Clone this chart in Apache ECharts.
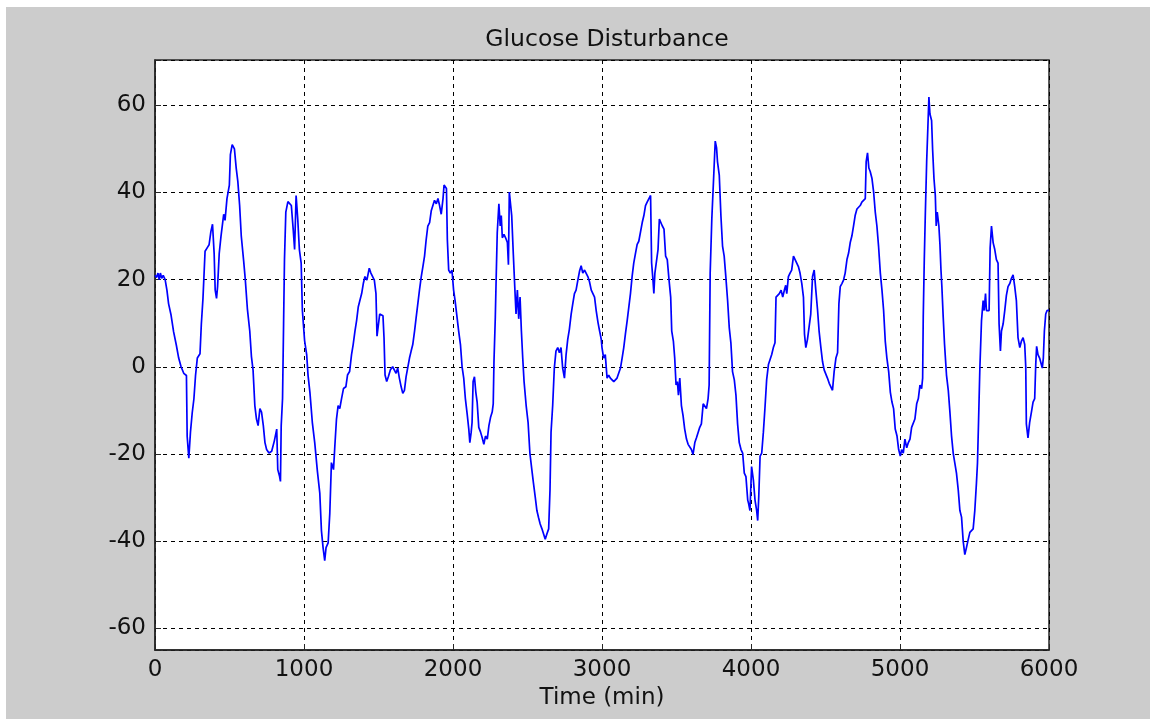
<!DOCTYPE html>
<html>
<head>
<meta charset="utf-8">
<script src="https://cdn.jsdelivr.net/npm/echarts@6/dist/echarts.min.js"></script>
<style>
  html, body { margin: 0; padding: 0; background: #ffffff; width: 1150px; height: 719px; overflow: hidden; }
  #chart { position: absolute; left: 6px; top: 7px; width: 1144px; height: 712px; }
</style>
</head>
<body>
<div id="chart"></div>
<script>
// ---- Data (time in min, glucose disturbance) ----
const titleText = 'Glucose Disturbance';
const xName = 'Time (min)';
const xTicks = [0, 1000, 2000, 3000, 4000, 5000, 6000];
const yTicks = [-60, -40, -20, 0, 20, 40, 60];

const seg1 = [[0,21],[10,20.5],[20,21.5],[28,20],[36,21.5],[45,20.3],[55,21],[68,20],[80,17.6],[91,14.5],[107,12],[125,8],[143,5],[159,2],[175,0],[193,-1.5],[211,-2],[216,-16],[227,-21],[238,-15],[250,-10.5],[261,-7.4],[272,-2],[284,2],[302,3],[311,9.8],[322,15.7],[336,26.5],[352,27.4],[363,28],[375,31],[386,32.7],[397,26],[404,17.6],[413,15.7],[420,18.4],[431,26],[443,30],[454,33],[461,35],[470,33.6],[483,38.6],[499,41.7],[506,48.7],[518,51],[533,50],[545,45.6],[556,42.5],[568,37],[579,30],[595,24.3],[606,20],[620,13.3],[636,8.2],[647,2.4],[658,-0.7],[670,-8.9],[681,-12],[692,-13.5],[704,-9.6],[715,-10.4],[727,-13.5],[738,-17.4],[749,-19],[765,-19.8],[783,-19.4],[801,-17],[817,-14.3],[824,-23.6],[835,-25],[842,-26.3],[847,-13.5],[856,-7.3],[863,9.8],[869,24.6],[878,35.5],[892,37.9],[903,37.9],[915,37],[928,31.3],[937,26.9],[947,39.3],[958,33.9],[969,26.9],[981,23.8],[989,13]];
const seg2 = [[1004,6],[1018,2.8],[1027,-1.9],[1040,-6],[1056,-12.8],[1072,-17.4],[1090,-24],[1106,-29],[1117,-37.6],[1128,-41.5],[1139,-44.5],[1148,-41.5],[1162,-40.4],[1173,-33.7],[1184,-22],[1198,-23.6],[1207,-18.2],[1218,-12],[1229,-8.9],[1240,-9.6],[1252,-7.3],[1265,-5],[1281,-4.6],[1292,-1.9],[1306,-1.1],[1319,2.8],[1330,5.1],[1342,8.2],[1353,10.6],[1364,13.7],[1375,15.2],[1387,16.8],[1398,19.1],[1409,20.7],[1422,19.9],[1438,22.6],[1449,21.5],[1461,21.9],[1472,19.9],[1483,16.8],[1490,7],[1499,6.7],[1508,12.1],[1519,12.5],[1530,11.7],[1537,6.7],[1544,-1.9],[1555,-3.4],[1566,-2.3],[1580,-0.7],[1595,0],[1607,-0.3],[1618,-1.5],[1629,-0.3],[1640,-2.6],[1652,-4.6],[1663,-6.1],[1674,-5.4],[1685,-2.3],[1697,-1.9],[1708,2],[1719,3.6],[1730,5.1],[1742,8.2],[1753,11.4],[1764,14.5],[1775,17.6],[1787,20.7],[1798,23],[1809,25.4],[1820,29.2],[1831,32.3],[1843,33.1],[1854,35.8],[1865,37],[1876,38.2],[1888,37.4],[1899,38.6],[1910,37],[1921,35],[1933,38.6],[1940,41.7],[1949,42.1],[1956,40.9],[1962,29.2],[1971,22.2],[1982,21.5],[1993,22.2]];
const seg3 = [[2004,17.6],[2014,15.2],[2027,11.4],[2038,8.2],[2050,5.1],[2061,0],[2072,-2.6],[2083,-7.3],[2095,-10.8],[2106,-14.3],[2113,-17.4],[2122,-15],[2128,-12.8],[2135,-3.4],[2144,-2.3],[2153,-5.8],[2162,-8.1],[2173,-13.9],[2185,-15],[2196,-16.3],[2207,-17.8],[2218,-15.9],[2230,-16.6],[2241,-13.5],[2252,-11.6],[2263,-10.4],[2270,-8.5],[2275,1.2],[2284,11.4],[2290,20.7],[2297,30.8],[2308,37.4],[2317,32.3],[2324,34.7],[2331,29.6],[2342,30.4],[2353,29.6],[2365,28.5],[2372,23.4],[2378,40.1],[2387,40.1],[2394,34.7],[2405,25.7],[2414,18.7],[2423,12.1],[2432,17.6],[2441,11],[2450,16],[2459,8.2],[2468,2],[2477,-3.4],[2491,-8.9],[2504,-12.8],[2516,-19.8],[2529,-23.6],[2540,-26.7],[2552,-29.9],[2563,-33],[2574,-34.6],[2585,-36.1],[2597,-37.2],[2608,-37.6],[2619,-39.6],[2630,-38.4],[2642,-37.2],[2651,-28.3],[2658,-15],[2669,-8.9],[2680,-0.3],[2691,3.6],[2703,4.4],[2714,3.2],[2725,4.4],[2736,-0.3],[2748,-2.6],[2759,2.8],[2770,6.3],[2781,8.6],[2793,12.1],[2804,14.5],[2815,16.8],[2826,17.6],[2838,19.9],[2849,21.9],[2860,23.2],[2871,21.5],[2883,22.2],[2894,22.2],[2905,20.7],[2916,19.5],[2928,17.6],[2939,17.2],[2950,16],[2961,12.9],[2973,10.2],[2984,8.2],[2995,6.3]];
const seg4 = [[3000,4.4],[3011,2],[3022,2.8],[3034,-2.6],[3045,-1.9],[3056,-2.6],[3067,-3],[3079,-3.4],[3090,-3.8],[3101,-2.6],[3112,-2.3],[3124,-0.3],[3135,2],[3146,4.4],[3157,7.5],[3169,10.6],[3180,13.7],[3191,16.8],[3202,20.7],[3213,23.8],[3225,26.1],[3236,28.1],[3247,28.8],[3258,29.2],[3270,33.1],[3281,34.7],[3292,37],[3303,37.8],[3315,38.6],[3326,39.3],[3333,23.8],[3342,19.9],[3348,16.8],[3355,21.5],[3366,21.5],[3376,26.9],[3385,33.9],[3394,33.9],[3405,32.3],[3416,31.6],[3427,25.4],[3438,24.6],[3450,19.9],[3461,16],[3468,8.2],[3479,5.9],[3488,2],[3497,-4.2],[3506,-3.4],[3513,-6.5],[3522,-2.6],[3533,-8.9],[3544,-11.2],[3555,-14.3],[3567,-16.6],[3578,-17.8],[3589,-18.2],[3600,-19],[3611,-20.1],[3623,-17.4],[3634,-16.3],[3645,-16.6],[3656,-13.9],[3667,-13.1],[3679,-8.5],[3690,-8.9],[3701,-9.6],[3712,-7.3],[3719,-4.2],[3726,21.5],[3737,33.9],[3749,43.2],[3760,51.8],[3769,50.2],[3775,47.1],[3787,44],[3798,34.7],[3809,27.7],[3820,25.4],[3831,20.7],[3843,15.2],[3854,9],[3865,5.5],[3876,-1.1],[3888,-3],[3899,-6.5],[3910,-13.1],[3921,-17.4],[3933,-19],[3944,-19.8],[3955,-24.4],[3966,-25.2],[3978,-30.6],[3984,-31.4],[3993,-33]];
const seg5 = [[4004,-22.9],[4016,-26],[4027,-30.6],[4038,-33],[4045,-35.3],[4052,-29.9],[4061,-20.5],[4072,-19.8],[4083,-15],[4094,-9.3],[4105,-3],[4117,0.5],[4128,0.9],[4139,2.8],[4150,4.4],[4161,5.5],[4168,16],[4179,16.4],[4190,16.8],[4202,17.6],[4213,16],[4224,17.6],[4233,18.7],[4240,16.8],[4251,20.7],[4262,21.5],[4273,22.2],[4285,25.4],[4296,24.6],[4307,23.8],[4318,23],[4329,21.5],[4341,19.1],[4352,16],[4359,7.5],[4368,4.4],[4379,6.3],[4390,6.7],[4401,12.1],[4413,20.7],[4424,22.2],[4435,17.6],[4446,13.3],[4457,8.2],[4469,4.4],[4480,1.2],[4491,-0.7],[4502,-1.1],[4513,-2.6],[4525,-3.8],[4536,-4.6],[4547,-5.4],[4558,-1.1],[4570,2],[4581,3.2],[4590,14.5],[4599,18.4],[4610,19.1],[4621,19.9],[4632,21.5],[4644,24.6],[4655,26.1],[4666,28.5],[4677,30],[4688,32.3],[4699,34.7],[4711,36.2],[4722,36.2],[4733,37],[4744,37.8],[4755,37.4],[4767,38.6],[4773,47.1],[4782,49.1],[4791,45.6],[4800,44.8],[4812,43.2],[4823,40.1],[4834,35.5],[4845,32.3],[4856,27.7],[4868,21.5],[4879,17.6],[4890,12.9],[4901,5.9],[4912,2],[4924,-1.1],[4935,-5.8],[4946,-8.1],[4957,-9.6],[4968,-14.3],[4980,-15.9],[4991,-19]];
const seg6 = [[5002,-20.5],[5011,-19],[5022,-19.8],[5033,-16.6],[5045,-18.6],[5056,-17.4],[5067,-16.6],[5078,-13.9],[5089,-13.5],[5100,-12],[5112,-8.5],[5123,-7.3],[5134,-4.2],[5145,-5],[5152,-2.6],[5156,11.4],[5163,24.6],[5170,35.1],[5179,47.1],[5187,54.9],[5194,61.9],[5201,58],[5212,56.5],[5219,49.8],[5228,43.2],[5237,39.3],[5243,32.3],[5250,35.5],[5261,32.3],[5268,28.1],[5275,22.2],[5281,18.4],[5290,11.4],[5299,5.1],[5312,-1.9],[5324,-5.4],[5335,-10.4],[5346,-15.9],[5357,-19.8],[5368,-22.1],[5379,-24.4],[5391,-28.3],[5402,-33],[5413,-34.5],[5424,-40],[5435,-43.1],[5446,-41.5],[5458,-39.6],[5469,-38],[5480,-37.6],[5491,-37.2],[5502,-33],[5513,-26.7],[5520,-22.1],[5527,-12.8],[5536,-0.3],[5547,10.6],[5558,15.2],[5565,12.9],[5574,16.8],[5580,12.9],[5591,12.5],[5598,12.9],[5605,27.3],[5614,32.3],[5625,28.5],[5636,26.9],[5647,24.6],[5658,23.8],[5665,9.8],[5674,3.6],[5681,8.2],[5692,9.8],[5703,12.9],[5714,16.4],[5725,18.4],[5737,19.1],[5748,20.3],[5759,21.1],[5770,18.4],[5781,15.2],[5792,6.7],[5804,4.4],[5815,5.9],[5826,6.7],[5837,5.1],[5844,0],[5848,-13.1],[5859,-16.3],[5870,-12.8],[5882,-10.4],[5893,-8.1],[5904,-7.3],[5911,0.5],[5917,4.7],[5926,2.8],[5937,2],[5949,2],[5955,-0.3],[5962,2],[5969,8.2],[5978,12.1],[5987,12.9],[6000,13]];

const series = seg1.concat(seg2, seg3, seg4, seg5, seg6);

const FONT = 'DejaVu Sans';
const chart = echarts.init(document.getElementById('chart'), null, { renderer: 'canvas' });
chart.setOption({
  animation: false,
  backgroundColor: '#cccccc',
  title: {
    text: titleText,
    left: 596,
    top: 16,
    textAlign: 'center',
    textStyle: { fontFamily: FONT, fontSize: 23.5, fontWeight: 'normal', color: '#111111' }
  },
  grid: {
    left: 149, right: 101, top: 53, bottom: 69,
    show: true, backgroundColor: '#ffffff', borderColor: '#262626', borderWidth: 1.5
  },
  xAxis: {
    type: 'value', min: 0, max: 6000, interval: 1000,
    name: xName, nameLocation: 'middle', nameGap: 33,
    nameTextStyle: { fontFamily: FONT, fontSize: 23, color: '#111111' },
    axisLine: { show: true, onZero: false, lineStyle: { color: '#262626', width: 1.5 } },
    axisTick: { show: true, inside: true, length: 6, lineStyle: { color: '#262626' } },
    axisLabel: { fontFamily: FONT, fontSize: 23, color: '#111111', margin: 9,
      formatter: v => xTicks.indexOf(v) >= 0 ? String(v) : '' },
    splitLine: { show: true, lineStyle: { color: '#000000', type: [4, 4], width: 1 } }
  },
  yAxis: {
    type: 'value', min: -65, max: 70.4, minInterval: 20, maxInterval: 20,
    axisLine: { show: true, onZero: false, lineStyle: { color: '#262626', width: 1.5 } },
    axisTick: { show: true, inside: true, length: 6, lineStyle: { color: '#262626' } },
    axisLabel: { fontFamily: FONT, fontSize: 23, color: '#111111', margin: 9,
      formatter: v => yTicks.indexOf(v) >= 0 ? String(v) : '' },
    splitLine: { show: true, lineStyle: { color: '#000000', type: [4, 4], width: 1 } }
  },
  series: [{
    type: 'line', data: series, showSymbol: false, symbol: 'none',
    lineStyle: { color: '#0000ff', width: 1.7 }, clip: true
  }]
});
</script>
</body>
</html>
